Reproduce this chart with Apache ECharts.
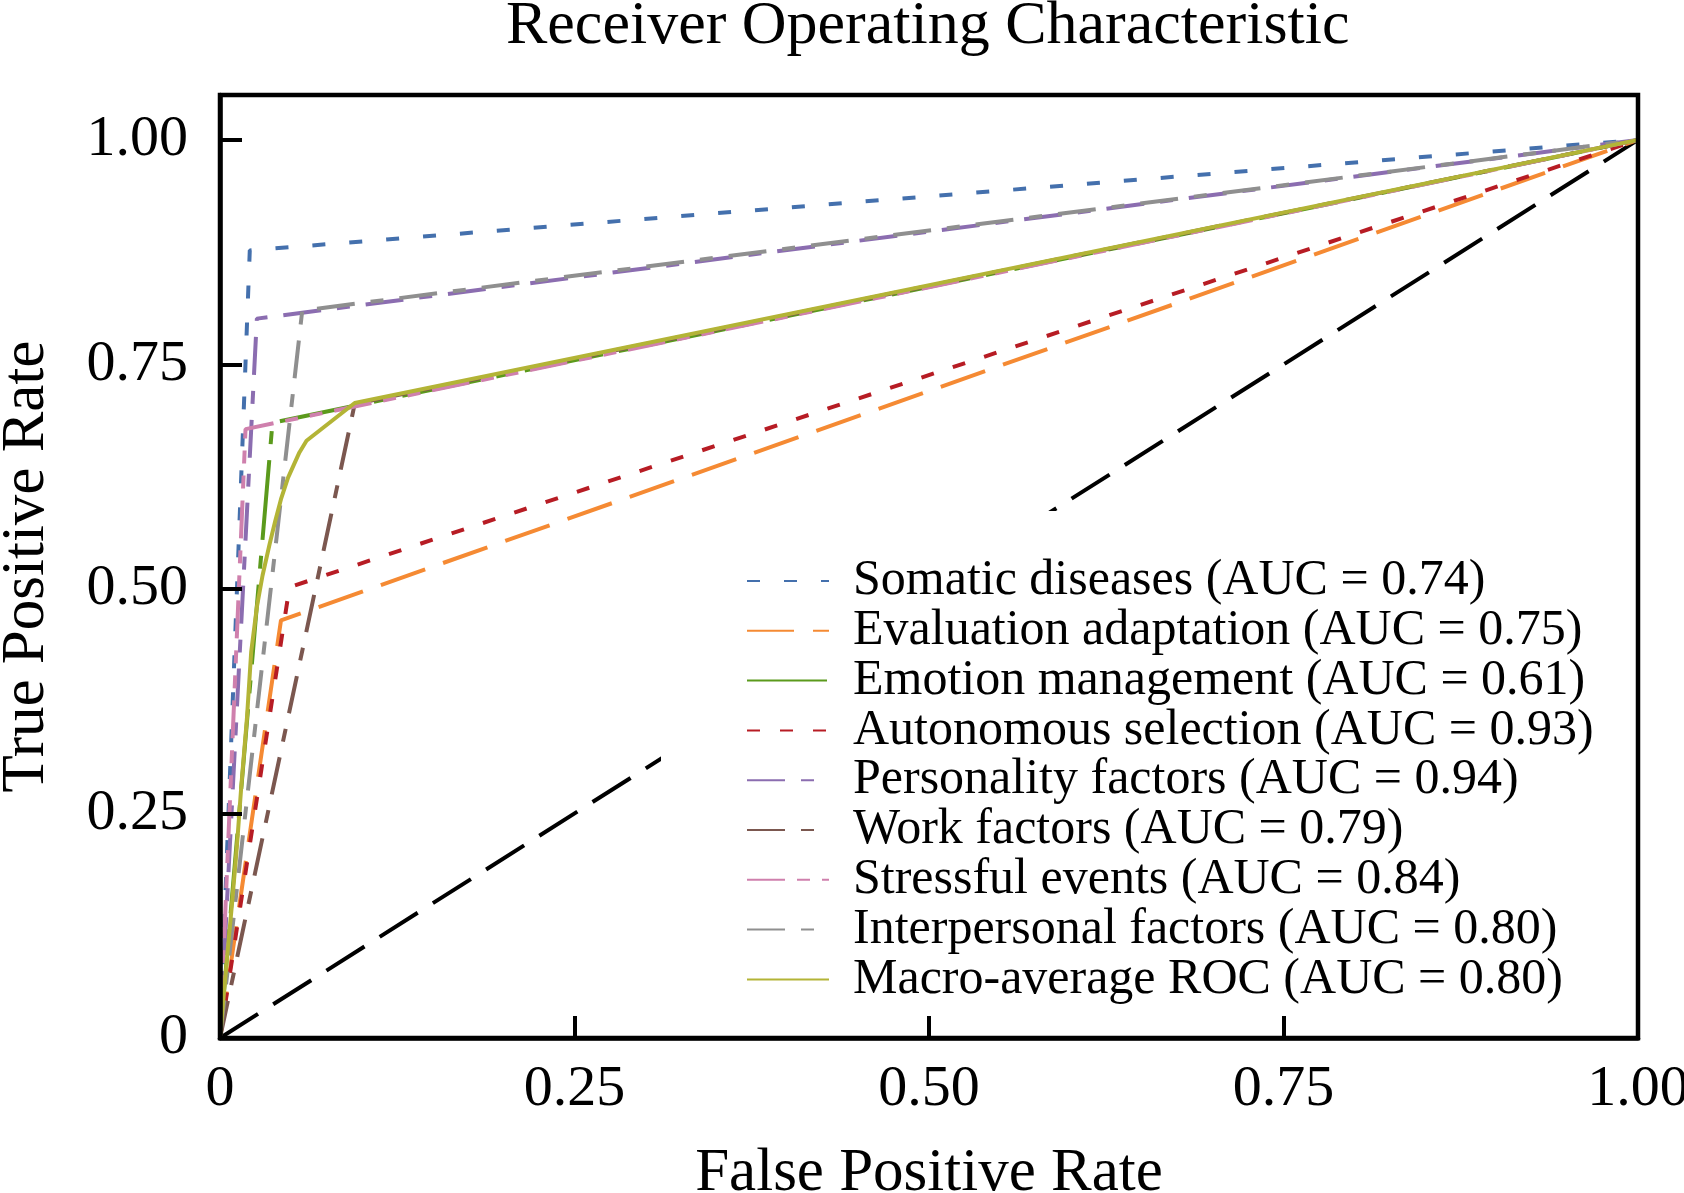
<!DOCTYPE html>
<html lang="en">

<head>
    <meta charset="UTF-8">
    <title>ROC</title>
    <style>
        html,
        body {
            margin: 0;
            padding: 0;
            background: #fff;
        }
    </style>
</head>

<body>
    <div id="show" style="width: 1684px; height: 1193px;"></div>

    <script src="https://cdn.jsdelivr.net/npm/echarts@6/dist/echarts.min.js"></script>
    <script>
        // tick labels
        var tickLabels = ['0', '0.25', '0.50', '0.75', '1.00'];

        // one ROC curve per class: [fpr, tpr] points
        var somatic = [[0, 0], [0.021, 0.877], [1, 1]];
        var evaluation = [[0, 0], [0.043, 0.465], [1, 1]];
        var emotion = [[0, 0], [0.037, 0.685], [1, 1]];
        var autonomous = [[0, 0], [0.049, 0.502], [1, 1]];
        var personality = [[0, 0], [0.026, 0.801], [1, 1]];
        var work = [[0, 0], [0.095, 0.706], [1, 1]];
        var stressful = [[0, 0], [0.018, 0.678], [1, 1]];
        var interpersonal = [[0, 0], [0.058, 0.81], [1, 1]];
        var macro = [[0, 0], [0.005, 0.09], [0.0085, 0.15], [0.012, 0.215], [0.015, 0.28],
            [0.019, 0.356], [0.022, 0.43], [0.026, 0.48], [0.03, 0.515], [0.035, 0.55],
            [0.039, 0.576], [0.043, 0.6], [0.048, 0.624], [0.056, 0.652], [0.061, 0.665],
            [0.095, 0.707], [1, 1]];
        var chance = [[0, 0], [1, 1]];

        var names = ['Somatic diseases (AUC = 0.74)', 'Evaluation adaptation (AUC = 0.75)',
            'Emotion management (AUC = 0.61)', 'Autonomous selection (AUC = 0.93)',
            'Personality factors (AUC = 0.94)', 'Work factors (AUC = 0.79)',
            'Stressful events (AUC = 0.84)', 'Interpersonal factors (AUC = 0.80)',
            'Macro-average ROC (AUC = 0.80)'];
        var curves = [somatic, evaluation, emotion, autonomous, personality, work, stressful, interpersonal, macro];
        var colors = ['#4470ad', '#f58a33', '#5b9a1c', '#b71c24', '#8b6db0', '#7b574f', '#cf80ad', '#8f8f8f', '#b3b436'];
        var dashes = [[13, 24], [47, 19], [80, 16, 13, 16], [13, 20], [38, 16, 13, 16],
            [38, 16, 13, 16], [38, 12, 13, 12, 13, 12], [38, 16, 13, 16], 'solid'];

        var font = "'Liberation Serif', 'Times New Roman', serif";

        function tickText(v) {
            var k = v / 0.25;
            if (Math.abs(k - Math.round(k)) > 1e-6) return '';
            return tickLabels[Math.round(k)] || '';
        }

        var series = [{
            name: 'chance',
            type: 'line',
            data: chance,
            symbol: 'none',
            lineStyle: { color: '#000', width: 4, type: [45, 18] }
        }];
        curves.forEach(function (c, i) {
            series.push({
                name: names[i],
                type: 'line',
                data: c,
                symbol: 'none',
                lineStyle: { color: colors[i], width: 4, type: dashes[i] },
                itemStyle: { color: colors[i] }
            });
        });

        var myChart = echarts.init(document.querySelector('#show'));
        myChart.setOption({
            animation: false,
            backgroundColor: '#fff',
            title: {
                text: 'Receiver Operating Characteristic',
                left: 506,
                top: -4,
                padding: 0,
                textStyle: { fontFamily: font, fontSize: 62, fontWeight: 'normal', color: '#000' }
            },
            grid: {
                left: 220, right: 46, top: 95, bottom: 155,
                outerBoundsMode: 'none',
                containLabel: false,
                z: 5,
                show: true, borderColor: '#000', borderWidth: 4.5,
                backgroundColor: 'transparent'
            },
            legend: {
                data: names,
                orient: 'vertical',
                left: 661,
                top: 511,
                padding: [45, 10, 5, 85],
                itemWidth: 82,
                itemHeight: 14,
                itemGap: -0.2,
                backgroundColor: '#fff',
                itemStyle: { opacity: 0 },
                textStyle: { fontFamily: font, fontSize: 50, lineHeight: 48, color: '#000', padding: [0, 0, 0, 19] }
            },
            xAxis: {
                type: 'value', min: 0, max: 1, interval: 0.25, z: 5,
                name: 'False Positive Rate', nameLocation: 'middle', nameGap: 105,
                nameTextStyle: { fontFamily: font, fontSize: 61, color: '#000' },
                axisLine: { lineStyle: { color: '#000', width: 4.5 } },
                axisTick: { inside: true, length: 22, lineStyle: { color: '#000', width: 4 } },
                axisLabel: { fontFamily: font, fontSize: 58, color: '#000', margin: 23, formatter: tickText },
                splitLine: { show: false }
            },
            yAxis: {
                type: 'value', min: 0, max: 1.05, interval: 0.25, z: 5,
                name: 'True Positive Rate', nameLocation: 'middle', nameGap: 163,
                nameTextStyle: { fontFamily: font, fontSize: 61, color: '#000' },
                axisLine: { lineStyle: { color: '#000', width: 4.5 } },
                axisTick: { inside: true, length: 22, lineStyle: { color: '#000', width: 4 } },
                axisLabel: { fontFamily: font, fontSize: 58, color: '#000', margin: 32, formatter: tickText },
                splitLine: { show: false }
            },
            series: series
        });
    </script>
</body>

</html>
